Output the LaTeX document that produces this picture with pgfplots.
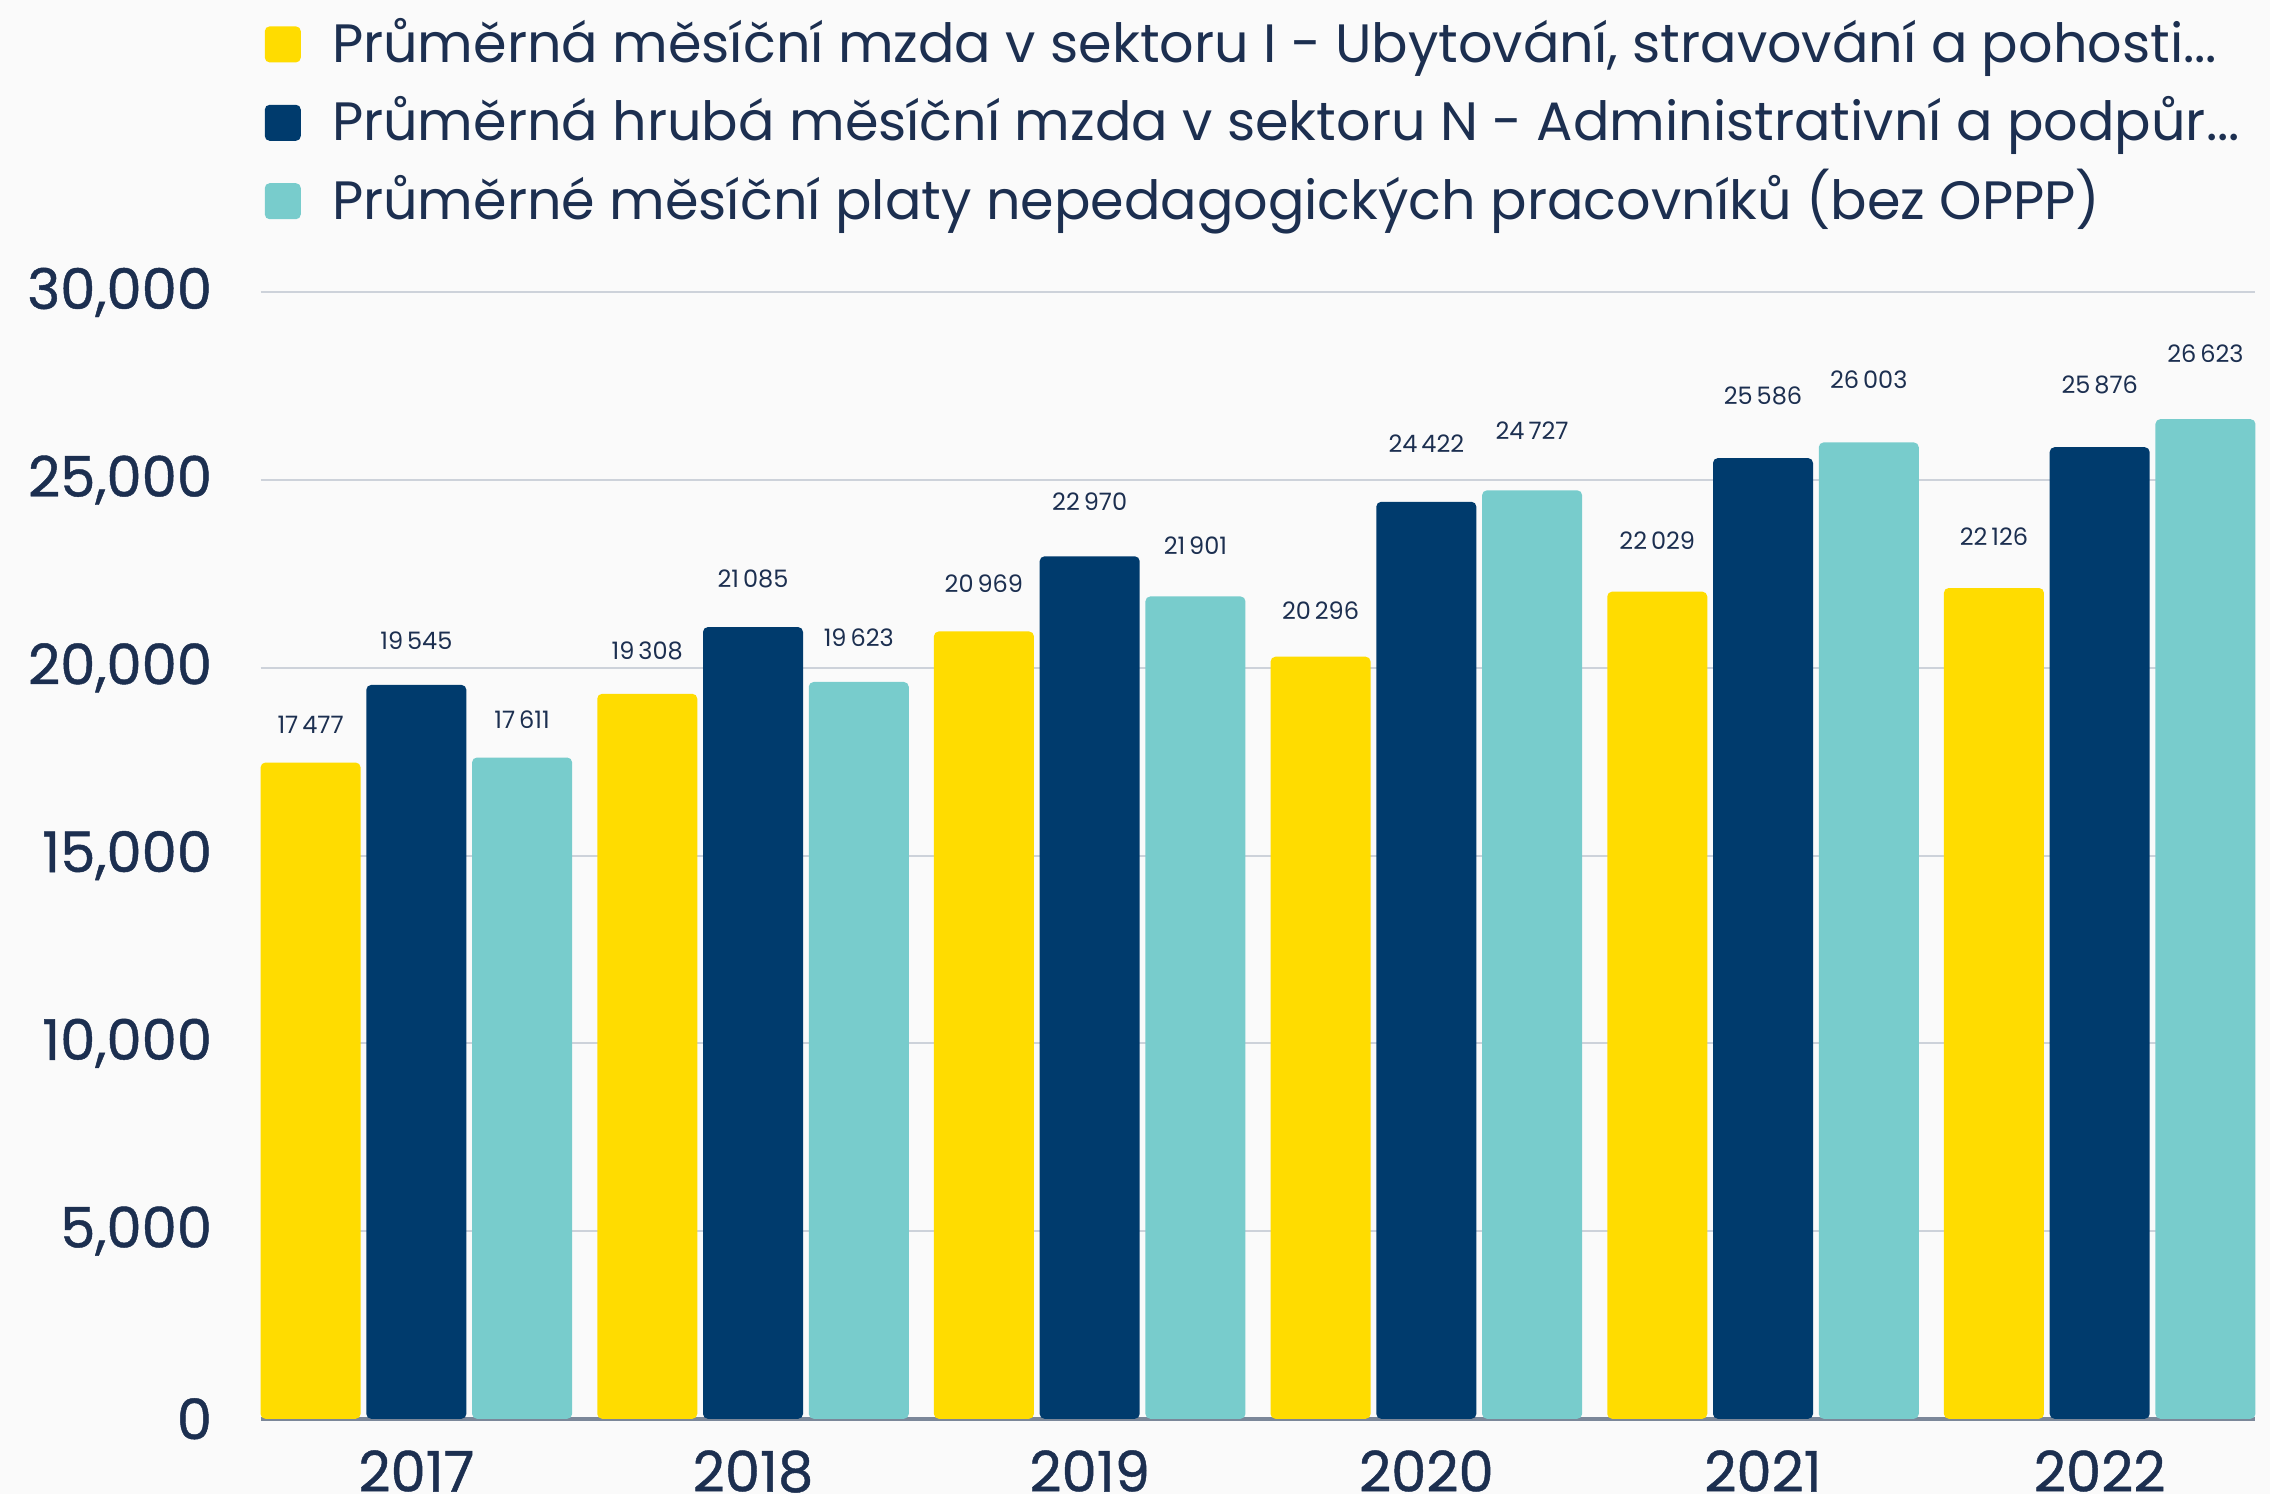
\documentclass[border=0pt]{standalone}
\usepackage{pgfplots}
\pgfplotsset{compat=1.18}
\usepackage{fontspec}
\setmainfont{Poppins}
\newfontfamily\pmed{Poppins}[FakeBold=0.8]
\definecolor{cy}{HTML}{FFDC00}
\definecolor{cn}{HTML}{003B6D}
\definecolor{ct}{HTML}{78CCCC}
\definecolor{textc}{HTML}{1C2F50}
\definecolor{bgc}{HTML}{FAFAFA}
\definecolor{gridc}{HTML}{CDD2DA}
\definecolor{axisc}{HTML}{7B8799}
\pgfplotsset{
  mylegend/.style={legend image code/.code={\path[##1,draw=none,rounded corners=1.2pt] (0pt,0pt) rectangle (9pt,9pt);}}
}
\newcommand\vallabel{%
  \begingroup
  \pgfkeys{/pgf/fpu=true,/pgf/fpu/output format=fixed}%
  \pgfmathparse{0.000746*\pgfplotspointmeta-3.69}%
  \edef\sh{\pgfmathresult}%
  \pgfkeys{/pgf/fpu=false}%
  \raisebox{\sh pt}{\pgfmathprintnumber[fixed, precision=0, 1000 sep={\,}, assume math mode=true]{\pgfplotspointmeta}}%
  \endgroup}
\begin{document}
\begin{tikzpicture}
\fill[bgc] (0,0) rectangle (567.5pt,373.5pt);
\begin{axis}[
  at={(65.15pt,18.8pt)}, anchor=south west,
  scale only axis, width=498.7pt, height=281.6pt,
  xmin=-0.4626, xmax=5.4626, ymin=0, ymax=30000,
  ybar, bar width=25pt,
  axis lines*=left,
  y axis line style={draw=none},
  x axis line style={draw=axisc, line width=0.9pt},
  scaled y ticks=false,
  ytick={0,5000,10000,15000,20000,25000,30000},
  yticklabels={0,{5,000},{10,000},{15,000},{20,000},{25,000},{30,000}},
  ymajorgrids, grid style={gridc, line width=0.5pt},
  xtick={0,1,2,3,4,5},
  xticklabels={2017,2018,2019,2020,2021,2022},
  major tick length=0pt,
  tick label style={font=\pmed\fontsize{14}{16}\selectfont, text=textc},
  yticklabel style={anchor=east, inner sep=0pt, xshift=-11.95pt},
  xticklabel style={anchor=base, inner sep=0pt, yshift=-18.2pt},
  enlargelimits=false, clip=false,
  nodes near coords={\vallabel},
  nodes near coords style={font=\fontsize{6}{7}\selectfont, text=textc, fill=none, anchor=base, yshift=-2.1pt},
  legend style={at={(0.0021,1.2379)}, anchor=north west, draw=none, fill=none, inner sep=0pt, outer sep=0pt,
    row sep=7.1pt, column sep=7.8pt, font=\fontsize{13.5}{15}\selectfont, text=textc,
    nodes={inner sep=0pt, text height=9.5pt, text depth=3pt, anchor=base west}},
  legend cell align=left,
]
\addplot[fill=cy, draw=none, bar shift=-26.44pt, rounded corners=1.2pt, mylegend] coordinates {(0,17477) (1,19308) (2,20969) (3,20296) (4,22029) (5,22126)};
\addlegendentry{Průměrná měsíční mzda v sektoru I - Ubytování, stravování a pohosti...}
\addplot[fill=cn, draw=none, bar shift=0pt, rounded corners=1.2pt, mylegend] coordinates {(0,19545) (1,21085) (2,22970) (3,24422) (4,25586) (5,25876)};
\addlegendentry{Průměrná hrubá měsíční mzda v sektoru N - Administrativní a podpůr...}
\addplot[fill=ct, draw=none, bar shift=26.44pt, rounded corners=1.2pt, mylegend] coordinates {(0,17611) (1,19623) (2,21901) (3,24727) (4,26003) (5,26623)};
\addlegendentry{Průměrné měsíční platy nepedagogických pracovníků (bez OPPP)}
\end{axis}
\pgfresetboundingbox
\path[use as bounding box] (0,0) rectangle (567.5pt,373.5pt);
\end{tikzpicture}
\end{document}
